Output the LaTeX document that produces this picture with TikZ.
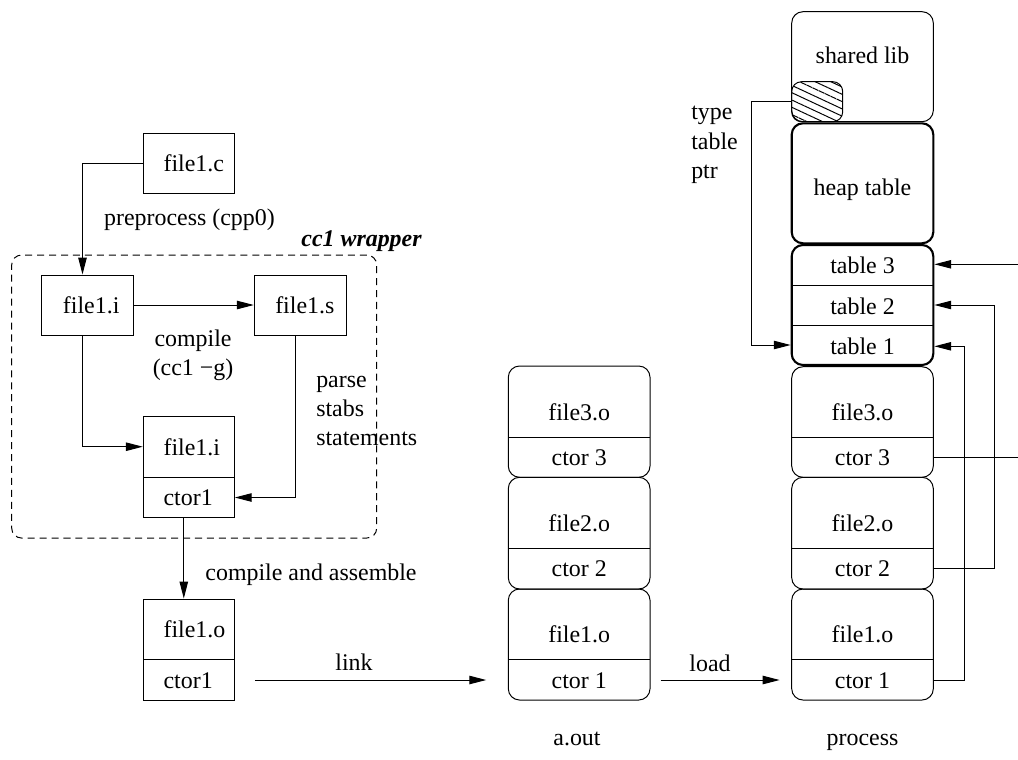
\documentclass[tikz,border=0pt]{standalone}
\usepackage{fontspec}
\setmainfont{Liberation Serif}
\usetikzlibrary{arrows.meta,patterns.meta,fit,calc}
\begin{document}
\begin{tikzpicture}[x=0.025cm,y=-0.025cm,
  every node/.style={font=\fontsize{17}{20.7}\selectfont},
  txt/.style={inner sep=0pt, text height=0.68em, text depth=0pt, yshift=-2.5pt},
  ml/.style={inner sep=0pt, align=left, yshift=-1.5pt},
  sq/.style={draw, line width=0.7pt, inner sep=0pt},
  blk/.style={draw, line width=0.7pt, inner sep=0pt, rounded corners=8pt},
  thk/.style={draw, line width=1.5pt, inner sep=0pt, rounded corners=8pt},
  arr/.style={line width=0.7pt, -{Triangle[length=12pt,width=6pt]}},
  wire/.style={line width=0.7pt},
  grp/.style={draw, line width=0.7pt, dash pattern=on 5pt off 3.5pt, rounded corners=7pt, inner sep=0pt}]
\clip (0,0) rectangle (1018,759);

% ---------- compilation of one source file ----------
\node[grp, fit={(11.7,255) (376.7,538)}] (wrap) {};
\node[txt, font=\fontsize{17}{20.7}\selectfont\bfseries\itshape] (wraplbl) at (361.5,238) {cc1 wrapper};

\node[sq, fit={(143.3,133.3) (234.3,193.3)}] (fc) {};
\node[txt, anchor=west] (fct) at (163.3,163.3) {file1.c};

\node[sq, fit={(41.7,275) (133.3,335)}] (fi) {};
\node[txt, anchor=west] (fit) at (62.7,305) {file1.i};

\node[sq, fit={(254.3,275) (346,335)}] (fs) {};
\node[txt, anchor=west] (fst) at (275,305) {file1.s};

\node[sq, fit={(143.3,416) (234.3,517.7)}] (b2) {};
\draw[wire] (143.3,477.3) -- (234.3,477.3);
\node[txt, anchor=west] (b2f) at (163.3,446.7) {file1.i};
\node[txt, anchor=west] (b2c) at (163.3,497.5) {ctor1};

\node[sq, fit={(143.3,599) (234.3,700)}] (fo) {};
\draw[wire] (143.3,659.3) -- (234.3,659.3);
\node[txt, anchor=west] (fof) at (163.3,629.5) {file1.o};
\node[txt, anchor=west] (foc) at (163.3,679.7) {ctor1};

\node[txt] (pre) at (189.5,217) {preprocess (cpp0)};
\node[inner sep=0pt, align=center] (cmp) at (193,355) {compile\\(cc1 −g)};
\node[ml, anchor=west] (parse) at (316,409) {parse\\stabs\\statements};
\node[txt] (cas) at (311,572) {compile and assemble};
\node[txt] (lnk) at (354,662) {link};

\draw[arr] (fc.west) -| ($(fi.north)+(-5,0)$);
\draw[arr] (fi.east) -- (fs.west);
\draw[arr] ($(fi.south)+(-5,0)$) |- (b2.west |- 0,446.7);
\draw[arr] ($(fs.south)+(-5,0)$) |- (b2.east |- 0,497.5);
\draw[arr] ($(b2.south)+(-5,0)$) -- ($(fo.north)+(-5,0)$);

% ---------- a.out ----------
\node[blk, fit={(508.3,366) (650,477.3)}] (a3) {};
\draw[wire] (508.3,437.3) -- (650,437.3);
\node[txt] (a3f) at (579.2,411.7) {file3.o};
\node[txt] (a3c) at (579.2,457.3) {ctor 3};
\node[blk, fit={(508.3,477.3) (650,589)}] (a2) {};
\draw[wire] (508.3,548.3) -- (650,548.3);
\node[txt] (a2f) at (579.2,522.7) {file2.o};
\node[txt] (a2c) at (579.2,568.3) {ctor 2};
\node[blk, fit={(508.3,589) (650,700)}] (a1) {};
\draw[wire] (508.3,659.3) -- (650,659.3);
\node[txt] (a1f) at (579.2,634) {file1.o};
\node[txt] (a1c) at (579.2,679.7) {ctor 1};
\node[txt] (aout) at (577,737) {a.out};

\draw[arr, shorten <=0.5cm, shorten >=0.54cm] (fo.east |- 0,680) -- (a1.west |- 0,680);
\node[txt] (ld) at (710,663) {load};

% ---------- process image ----------
\node[blk, fit={(791.7,11.7) (933.3,121.7)}] (sl) {};
\node[txt] (slt) at (862.5,55) {shared lib};
\node[blk, rounded corners=7pt, pattern={Lines[angle=-25,distance=4.7pt,line width=0.7pt]}, fit={(791.7,81.7) (842.7,121.7)}] (hat) {};
\node[thk, fit={(791.7,123.3) (933.3,243.3)}] (heap) {};
\node[txt] (heapt) at (862.5,187) {heap table};
\node[thk, fit={(791.7,245) (933.3,365)}] (tb) {};
\draw[wire] (791.7,285) -- (933.3,285);
\draw[wire] (791.7,325) -- (933.3,325);
\node[txt] (t3) at (862.5,265.5) {table 3};
\node[txt] (t2) at (862.5,306) {table 2};
\node[txt] (t1) at (862.5,346.5) {table 1};
\node[ml, anchor=west] (ttp) at (691,142.7) {type\\table\\ptr};

\node[blk, fit={(791.7,366.7) (933.3,477.3)}] (p3) {};
\draw[wire] (791.7,437.3) -- (933.3,437.3);
\node[txt] (p3f) at (862.5,411.7) {file3.o};
\node[txt] (p3c) at (862.5,457.3) {ctor 3};
\node[blk, fit={(791.7,477.3) (933.3,589)}] (p2) {};
\draw[wire] (791.7,548.3) -- (933.3,548.3);
\node[txt] (p2f) at (862.5,522.7) {file2.o};
\node[txt] (p2c) at (862.5,568.3) {ctor 2};
\node[blk, fit={(791.7,589) (933.3,700)}] (p1) {};
\draw[wire] (791.7,659.3) -- (933.3,659.3);
\node[txt] (p1f) at (862.5,634) {file1.o};
\node[txt] (p1c) at (862.5,679.7) {ctor 1};
\node[txt] (proc) at (862.5,737) {process};

\draw[arr, shorten <=0.25cm, shorten >=0.29cm] (a1.east |- 0,680) -- (p1.west |- 0,680);

% constructor -> type table links
\coordinate (r3) at (1030,264.3);
\coordinate (r2) at (994.3,305);
\coordinate (r1) at (964,346.3);
\draw[arr] (p3.east |- 0,457.3) -| (r3) -- (tb.east |- r3);
\draw[arr] (p2.east |- 0,568.3) -| (r2) -- (tb.east |- r2);
\draw[arr] (p1.east |- 0,680) -| (r1) -- (tb.east |- r1);

% type table pointer
\coordinate (l1) at (751.7,345);
\draw[arr] (hat.west) -| (l1) -- (tb.west |- l1);
\end{tikzpicture}
\end{document}
